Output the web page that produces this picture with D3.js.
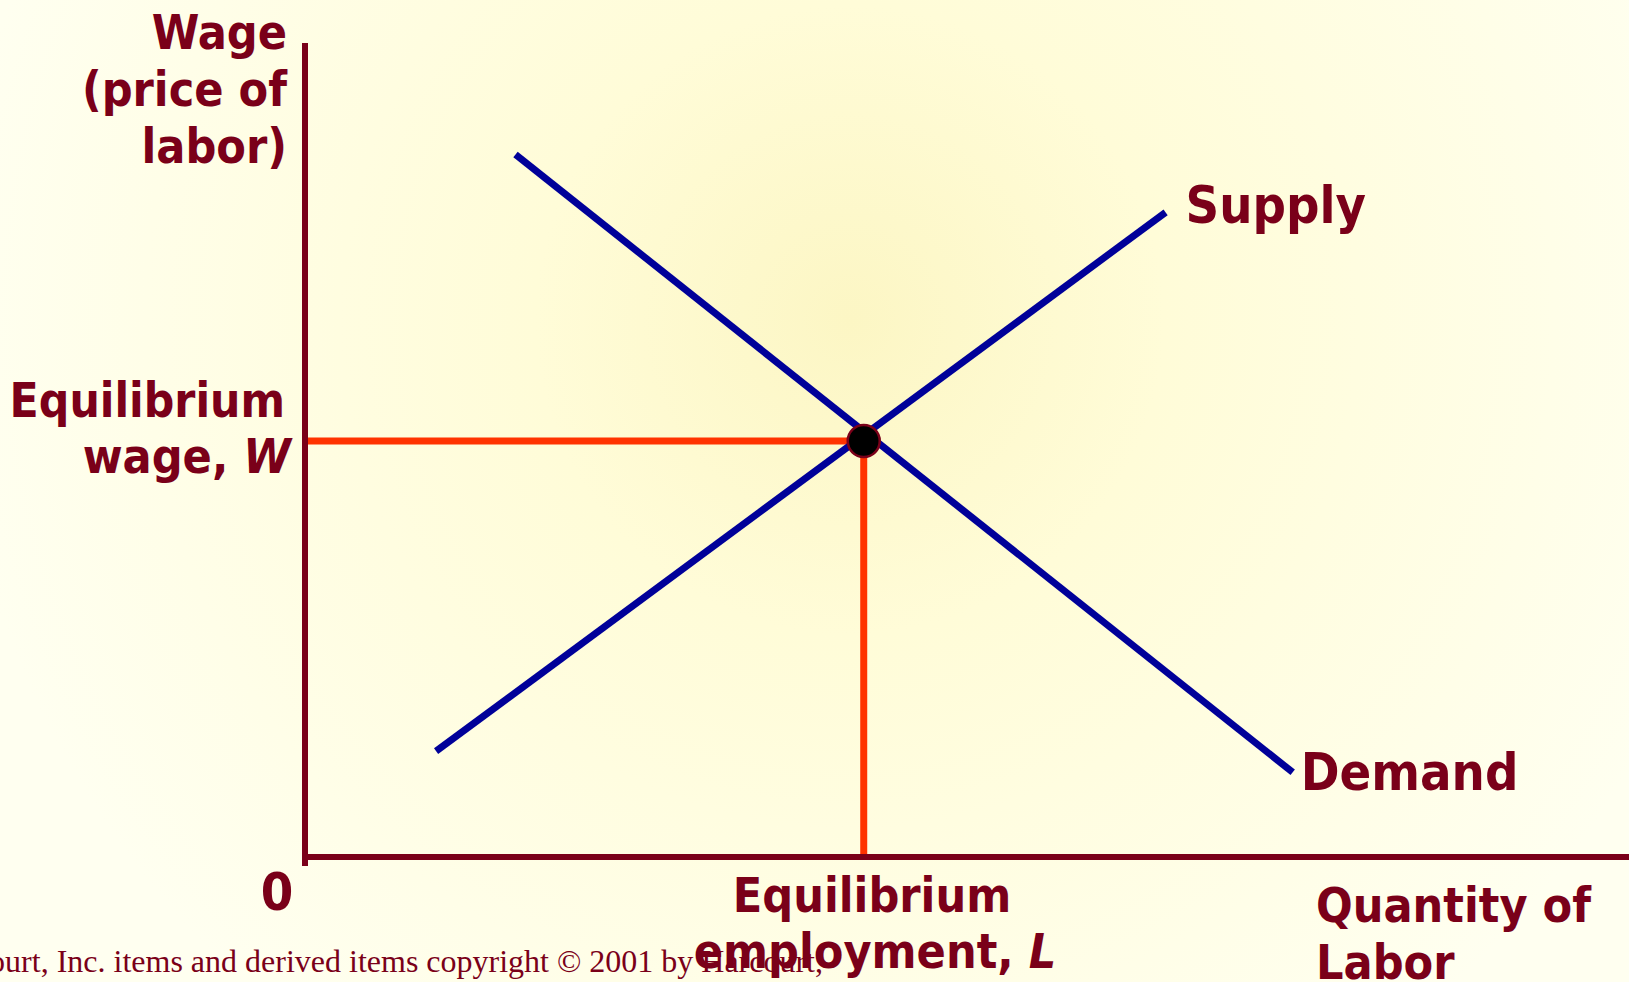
<!DOCTYPE html>
<html>
<head>
<meta charset="utf-8">
<script src="https://cdn.jsdelivr.net/npm/d3@7"></script>
<style>
  html, body { margin: 0; padding: 0; overflow: hidden; }
  svg { display: block; }
  .lbl { font-family: "DejaVu Sans Condensed", "DejaVu Sans", sans-serif; font-stretch: condensed; font-weight: bold; fill: #7a0019; }
</style>
</head>
<body>
<div id="viz-container"></div>
<script>
// data (in chart units, 0-100 on both axes)
const demandPts = [{ q: 15.9, w: 86.3 }, { q: 74.6, w: 10.4 }];
const supplyPts = [{ q: 9.9, w: 13.0 }, { q: 65.0, w: 79.2 }];
const equilibrium = { q: 42.2, w: 51.1 };
const curveLabels = ["Supply", "Demand"];
const yTitle = ["Wage", "(price of", "labor)"];
const xTitle = ["Quantity of", "Labor"];
const eqWageLabel = ["Equilibrium", "wage, "];
const eqEmpLabel = ["Equilibrium", "employment, "];
const copyright = "Harcourt, Inc. items and derived items copyright \u00a9 2001 by Harcourt,";

const W = 1629, H = 982;
const dark = "#7a0019", blue = "#000099", red = "#ff3300";

const svg = d3.select("#viz-container")
    .append("svg")
    .attr("width", W)
    .attr("height", H);

// background glow
const defs = svg.append("defs");
const grad = defs.append("radialGradient")
    .attr("id", "bg")
    .attr("gradientUnits", "userSpaceOnUse")
    .attr("cx", 850).attr("cy", 320).attr("r", 900);
grad.append("stop").attr("offset", "0%").attr("stop-color", "#fcf6c4");
grad.append("stop").attr("offset", "35%").attr("stop-color", "#fffcd8");
grad.append("stop").attr("offset", "100%").attr("stop-color", "#fffff0");
svg.append("rect").attr("width", W).attr("height", H).attr("fill", "url(#bg)");

// scales
const x = d3.scaleLinear().domain([0, 100]).range([305, 1629]);
const y = d3.scaleLinear().domain([0, 100]).range([857, 43]);

// copyright line (sits behind the axis labels)
svg.append("text")
    .attr("x", 823)
    .attr("y", 972)
    .attr("text-anchor", "end")
    .attr("font-family", "Liberation Serif, Times New Roman, serif")
    .attr("font-size", 32)
    .attr("fill", dark)
    .text(copyright);

// equilibrium guide lines
svg.append("line")
    .attr("x1", x(0)).attr("x2", x(equilibrium.q))
    .attr("y1", y(equilibrium.w)).attr("y2", y(equilibrium.w))
    .attr("stroke", red).attr("stroke-width", 7);
svg.append("line")
    .attr("x1", x(equilibrium.q)).attr("x2", x(equilibrium.q))
    .attr("y1", y(equilibrium.w)).attr("y2", y(0))
    .attr("stroke", red).attr("stroke-width", 7);

// axes
svg.append("line")
    .attr("x1", x(0)).attr("x2", x(0))
    .attr("y1", y(100)).attr("y2", y(0) + 9)
    .attr("stroke", dark).attr("stroke-width", 6);
svg.append("line")
    .attr("x1", x(0) - 3).attr("x2", x(100))
    .attr("y1", y(0)).attr("y2", y(0))
    .attr("stroke", dark).attr("stroke-width", 6);

// curves
const line = d3.line().x(d => x(d.q)).y(d => y(d.w));
[demandPts, supplyPts].forEach(pts => {
    svg.append("path")
        .datum(pts)
        .attr("fill", "none")
        .attr("stroke", blue)
        .attr("stroke-width", 7)
        .attr("d", line);
});

// equilibrium point
svg.append("circle")
    .attr("cx", x(equilibrium.q))
    .attr("cy", y(equilibrium.w))
    .attr("r", 16)
    .attr("fill", "#000")
    .attr("stroke", dark)
    .attr("stroke-width", 2.5);

// curve labels
svg.append("text").attr("class", "lbl")
    .attr("x", x(supplyPts[1].q) + 20).attr("y", 223)
    .attr("font-size", 52).text(curveLabels[0]);
svg.append("text").attr("class", "lbl")
    .attr("x", x(demandPts[1].q) + 8).attr("y", 790)
    .attr("font-size", 52).text(curveLabels[1]);

// y title
yTitle.forEach((t, i) => {
    svg.append("text").attr("class", "lbl")
        .attr("x", 287).attr("y", 49 + i * 57)
        .attr("text-anchor", "end")
        .attr("font-size", 48).text(t);
});

// equilibrium wage label
svg.append("text").attr("class", "lbl")
    .attr("x", 285).attr("y", 417)
    .attr("text-anchor", "end")
    .attr("font-size", 47.5).text(eqWageLabel[0]);
const wl = svg.append("text").attr("class", "lbl")
    .attr("x", 291).attr("y", 473)
    .attr("text-anchor", "end")
    .attr("font-size", 48);
wl.append("tspan").text(eqWageLabel[1]);
wl.append("tspan").attr("font-style", "italic").text("W");

// origin
svg.append("text").attr("class", "lbl")
    .attr("x", 277).attr("y", 910)
    .attr("text-anchor", "middle")
    .attr("font-size", 52).text("0");

// equilibrium employment label
svg.append("text").attr("class", "lbl")
    .attr("x", 872).attr("y", 912)
    .attr("text-anchor", "middle")
    .attr("font-size", 48).text(eqEmpLabel[0]);
const el = svg.append("text").attr("class", "lbl")
    .attr("x", 875).attr("y", 968)
    .attr("text-anchor", "middle")
    .attr("font-size", 48);
el.append("tspan").text(eqEmpLabel[1]);
el.append("tspan").attr("font-style", "italic").text("L");

// x title
xTitle.forEach((t, i) => {
    svg.append("text").attr("class", "lbl")
        .attr("x", 1316).attr("y", 922 + i * 57)
        .attr("font-size", 48).text(t);
});
</script>
</body>
</html>
